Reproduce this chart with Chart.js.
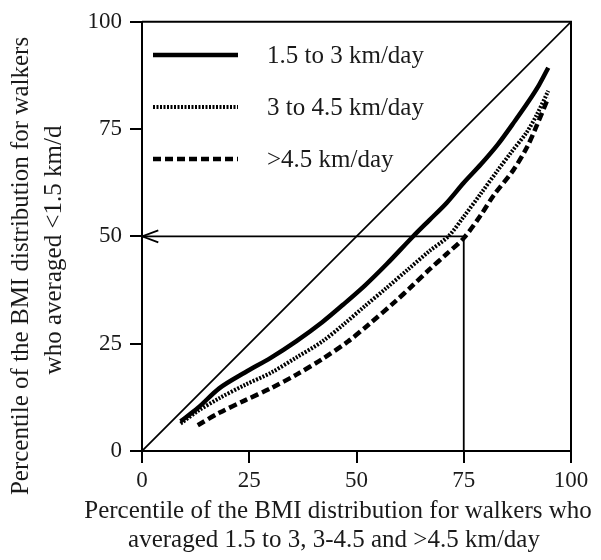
<!DOCTYPE html>
<html>
<head>
<meta charset="utf-8">
<script src="https://cdn.jsdelivr.net/npm/chart.js@4"></script>
<style>
  html, body { margin: 0; padding: 0; background: #fff; }
  #wrap { width: 601px; height: 560px; }
</style>
</head>
<body>
<div id="wrap"><canvas id="chart"></canvas></div>
<script>
const FONT = "'Liberation Serif', 'Times New Roman', serif";
const TICKS = [0, 25, 50, 75, 100];

// 1.5 to 3 km/day
const walk1X = [9, 13, 18, 24, 30, 36, 42, 47, 52, 57, 63, 67, 71, 75, 79, 83, 87, 90, 92.5, 94.7];
const walk1Y = [6.9, 10.0, 14.6, 18.3, 21.7, 25.6, 30.0, 34.2, 38.6, 43.5, 49.8, 53.8, 57.8, 62.5, 66.8, 71.5, 77.0, 81.3, 85.2, 89.3];

// 3 to 4.5 km/day
const walk2X = [9, 13, 18, 24, 30, 36, 42, 47, 52, 57, 62, 67, 71.4, 75, 79, 83, 86, 89.7, 92, 94.7];
const walk2Y = [6.4, 9.3, 12.3, 15.4, 18.2, 21.8, 25.5, 29.5, 33.8, 38.0, 42.3, 46.6, 50.0, 54.6, 60.0, 65.5, 69.5, 74.3, 78.3, 83.9];

// >4.5 km/day
const walk3X = [13, 18, 24, 30, 36, 42, 48, 53, 59, 63, 67, 71, 75, 79, 82, 86.6, 89.7, 92, 94.7];
const walk3Y = [6.0, 8.9, 11.8, 14.6, 17.8, 21.4, 25.5, 29.6, 34.8, 38.5, 42.3, 45.9, 49.6, 55.0, 59.6, 65.5, 70.7, 75.8, 82.3];

const diagX = [0, 100];
const diagY = [0, 100];
const guideX = [0, 75, 75];
const guideY = [50, 50, 0];
const arrowX = [3.8, 0, 3.8];
const arrowY = [51.4, 50, 48.6];

const LEGEND = ['1.5 to 3 km/day', '3 to 4.5 km/day', '>4.5 km/day'];
const X_TITLE = ['Percentile of the BMI distribution for walkers who', 'averaged 1.5 to 3, 3-4.5 and >4.5 km/day'];
const Y_TITLE = ['Percentile of the BMI distribution for walkers', 'who averaged <1.5 km/d'];

const pts = (xs, ys) => xs.map((x, i) => ({ x, y: ys[i] }));

function line(label, xs, ys, width, dash, tension) {
  return {
    label,
    data: pts(xs, ys),
    showLine: true,
    borderColor: '#000',
    borderWidth: width,
    borderDash: dash,
    pointRadius: 0,
    tension: tension,
    fill: false,
  };
}

// box, legend and axis titles
const decor = {
  id: 'decor',
  afterDraw(chart) {
    const { ctx, chartArea: a } = chart;
    ctx.save();
    ctx.strokeStyle = '#000';
    ctx.fillStyle = '#1a1a1a';
    ctx.lineWidth = 2;
    ctx.beginPath();
    ctx.moveTo(a.left, a.top);
    ctx.lineTo(a.right, a.top);
    ctx.lineTo(a.right, a.bottom);
    ctx.stroke();

    ctx.font = '25px ' + FONT;
    ctx.textAlign = 'left';
    ctx.textBaseline = 'alphabetic';
    chart.data.datasets.slice(0, 3).forEach((ds, i) => {
      const y = 55 + i * 52;
      ctx.lineWidth = ds.borderWidth;
      ctx.setLineDash(ds.borderDash || []);
      ctx.beginPath();
      ctx.moveTo(153, y);
      ctx.lineTo(238, y);
      ctx.stroke();
      ctx.setLineDash([]);
      ctx.fillText(LEGEND[i], 267, y + 8);
    });

    ctx.textAlign = 'center';
    ctx.fillText(X_TITLE[0], 338, 518);
    ctx.fillText(X_TITLE[1], 334, 547);

    ctx.rotate(-Math.PI / 2);
    ctx.fillText(Y_TITLE[0], -266, 28);
    ctx.fillText(Y_TITLE[1], -250, 61);
    ctx.restore();
  }
};

const tickFont = { family: FONT, size: 23 };

new Chart(document.getElementById('chart'), {
  type: 'scatter',
  data: {
    datasets: [
      line(LEGEND[0], walk1X, walk1Y, 4.5, [], 0.3),
      line(LEGEND[1], walk2X, walk2Y, 4, [2, 1.5], 0.3),
      line(LEGEND[2], walk3X, walk3Y, 4.5, [8, 4], 0.3),
      line('diagonal', diagX, diagY, 1.8, [], 0),
      line('guide', guideX, guideY, 1.8, [], 0),
      line('arrow', arrowX, arrowY, 1.8, [], 0),
    ],
  },
  options: {
    responsive: true,
    maintainAspectRatio: false,
    animation: false,
    layout: { padding: { top: 21, right: 30, left: 0, bottom: 0 } },
    plugins: {
      legend: { display: false },
      tooltip: { enabled: false },
    },
    scales: {
      x: {
        type: 'linear',
        min: 0,
        max: 100,
        afterBuildTicks: s => { s.ticks = TICKS.map(v => ({ value: v })); },
        afterFit: s => { s.height = 109; },
        ticks: { color: '#1a1a1a', font: tickFont, padding: 4, maxRotation: 0 },
        grid: { drawOnChartArea: false, drawTicks: true, tickLength: 12, color: '#000', lineWidth: 2 },
        border: { display: true, color: '#000', width: 2 },
      },
      y: {
        type: 'linear',
        min: 0,
        max: 100,
        afterBuildTicks: s => { s.ticks = TICKS.map(v => ({ value: v })); },
        afterFit: s => { s.width = 142; },
        ticks: { color: '#1a1a1a', font: tickFont, padding: 8 },
        grid: { drawOnChartArea: false, drawTicks: true, tickLength: 12, color: '#000', lineWidth: 2 },
        border: { display: true, color: '#000', width: 2 },
      },
    },
  },
  plugins: [decor],
});
</script>
</body>
</html>
